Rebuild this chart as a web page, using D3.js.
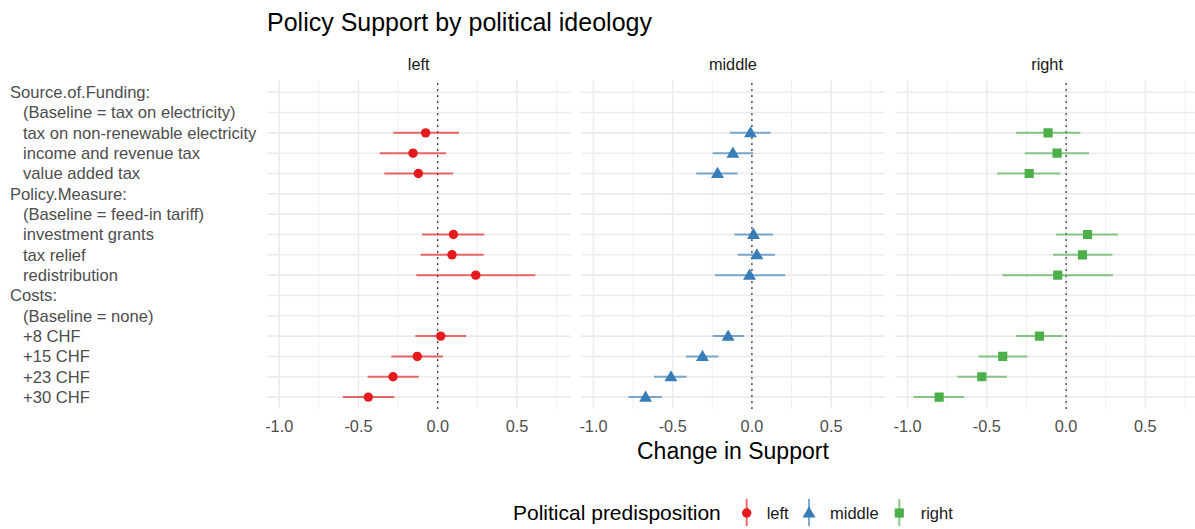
<!DOCTYPE html>
<html><head><meta charset="utf-8">
<script src="https://cdn.jsdelivr.net/npm/d3@7"></script>
<style>body{margin:0;background:#fff}svg{display:block;font-family:"Liberation Sans",Arial,sans-serif}</style>
</head><body><svg id="c" width="1195" height="529"></svg>
<script>
const terms = ["Source.of.Funding:","(Baseline = tax on electricity)","tax on non-renewable electricity","income and revenue tax","value added tax","Policy.Measure:","(Baseline = feed-in tariff)","investment grants","tax relief","redistribution","Costs:","(Baseline = none)","+8 CHF","+15 CHF","+23 CHF","+30 CHF"];
const headerRows = ["Source.of.Funding:","Policy.Measure:","Costs:"];
const groups = ["left","middle","right"];
const colors = ["#E41A1C","#377EB8","#4DAF4A"];
const xTicks = [-1.0,-0.5,0.0,0.5];
const xMinor = [-0.75,-0.25,0.25,0.75];
// estimates (null = no estimate)
const estLeft   = [null,null,-0.076,-0.156,-0.122,null,null,0.099,0.090,0.240,null,null,0.019,-0.129,-0.282,-0.438];
const lowLeft   = [null,null,-0.280,-0.366,-0.337,null,null,-0.099,-0.108,-0.135,null,null,-0.141,-0.293,-0.442,-0.599];
const highLeft  = [null,null,0.134,0.052,0.097,null,null,0.294,0.290,0.616,null,null,0.179,0.033,-0.120,-0.274];
const estMiddle = [null,null,-0.009,-0.120,-0.217,null,null,0.010,0.031,-0.015,null,null,-0.150,-0.312,-0.511,-0.671];
const lowMiddle = [null,null,-0.139,-0.248,-0.351,null,null,-0.110,-0.089,-0.234,null,null,-0.248,-0.417,-0.618,-0.779];
const highMiddle= [null,null,0.118,0.008,-0.091,null,null,0.132,0.145,0.210,null,null,-0.049,-0.211,-0.413,-0.568];
const estRight  = [null,null,-0.114,-0.057,-0.233,null,null,0.135,0.103,-0.053,null,null,-0.168,-0.400,-0.532,-0.801];
const lowRight  = [null,null,-0.317,-0.261,-0.435,null,null,-0.063,-0.082,-0.402,null,null,-0.317,-0.553,-0.686,-0.963];
const highRight = [null,null,0.090,0.145,-0.036,null,null,0.326,0.292,0.295,null,null,-0.021,-0.246,-0.374,-0.642];

const series = [
  {est:estLeft, low:lowLeft, high:highLeft},
  {est:estMiddle, low:lowMiddle, high:highMiddle},
  {est:estRight, low:lowRight, high:highRight}
];
const symbols = [d3.symbolCircle, d3.symbolTriangle, d3.symbolSquare];
const symSizes = [70, 72, 84];

const svg = d3.select("#c");
const panelW = 304, panelStep = 314.2, panelX0 = 266.7;
const yTop = 80, yBottom = 409.3;
const x = d3.scaleLinear().domain([-1.079,0.839]).range([0,panelW]);
const y = d3.scalePoint().domain(terms).range([yTop,yBottom]).padding(0.6);

// title
svg.append("text").attr("x",267).attr("y",31).attr("font-size",25).attr("fill","#000").text("Policy Support by political ideology");

// y labels
svg.append("g").selectAll("text").data(terms).join("text")
  .attr("x",d=>headerRows.includes(d)?10:23)
  .attr("y",d=>y(d)).attr("dy","0.36em")
  .attr("font-size",16.6).attr("fill","#4d4d4d").text(d=>d);

groups.forEach((g,i)=>{
  const gx = panelX0 + i*panelStep;
  const p = svg.append("g").attr("transform",`translate(${gx},0)`);
  const clipId = "clip"+i;
  p.append("clipPath").attr("id",clipId).append("rect").attr("x",0).attr("y",yTop).attr("width",panelW).attr("height",yBottom-yTop);
  const body = p.append("g").attr("clip-path",`url(#${clipId})`);
  // minor grid
  body.selectAll(".mn").data(xMinor).join("line")
    .attr("x1",d=>x(d)).attr("x2",d=>x(d)).attr("y1",yTop).attr("y2",yBottom)
    .attr("stroke","#f1f1f1").attr("stroke-width",1);
  // major vertical grid
  body.selectAll(".mj").data(xTicks).join("line")
    .attr("x1",d=>x(d)).attr("x2",d=>x(d)).attr("y1",yTop).attr("y2",yBottom)
    .attr("stroke","#ebebeb").attr("stroke-width",1.5);
  // horizontal grid
  body.selectAll(".hg").data(terms).join("line")
    .attr("x1",0).attr("x2",panelW).attr("y1",d=>y(d)).attr("y2",d=>y(d))
    .attr("stroke","#ebebeb").attr("stroke-width",1.6);
  // zero line
  body.append("line").attr("x1",x(0)).attr("x2",x(0)).attr("y1",yTop+4).attr("y2",yBottom)
    .attr("stroke","#000").attr("stroke-width",1.6).attr("stroke-dasharray","0.1 5.9").attr("stroke-linecap","round");
  // strip label
  p.append("text").attr("x",panelW/2).attr("y",69.5).attr("text-anchor","middle")
    .attr("font-size",16.3).attr("fill","#1a1a1a").text(g);
  // x axis tick labels
  p.selectAll(".tl").data(xTicks).join("text")
    .attr("x",d=>x(d)).attr("y",432).attr("text-anchor","middle")
    .attr("font-size",16.3).attr("fill","#4d4d4d").text(d=>d3.format(".1f")(d).replace("−","-"));
  const s = series[i];
  const idx = d3.range(terms.length).filter(k=>s.est[k]!==null);
  body.selectAll(".eb").data(idx).join("line")
    .attr("x1",k=>x(s.low[k])).attr("x2",k=>x(s.high[k]))
    .attr("y1",k=>y(terms[k])).attr("y2",k=>y(terms[k]))
    .attr("stroke",colors[i]).attr("stroke-opacity",0.65).attr("stroke-width",2);
  body.selectAll(".pt").data(idx).join("path")
    .attr("transform",k=>`translate(${x(s.est[k])},${y(terms[k])+(i===1?0.8:0)})`)
    .attr("d",d3.symbol().type(symbols[i]).size(symSizes[i]))
    .attr("fill",colors[i]);
});

// x axis title
svg.append("text").attr("x",panelX0+panelStep+panelW/2).attr("y",459).attr("text-anchor","middle")
  .attr("font-size",23).attr("fill","#000").text("Change in Support");

// legend
const ly = 513;
svg.append("text").attr("x",513).attr("y",ly+7).attr("font-size",21).attr("fill","#000").text("Political predisposition");
const keyX = [746.7,809,899.3];
const labX = [766.7,830,920.7];
groups.forEach((g,i)=>{
  svg.append("line").attr("x1",keyX[i]).attr("x2",keyX[i]).attr("y1",ly-14).attr("y2",ly+13)
    .attr("stroke",colors[i]).attr("stroke-opacity",0.65).attr("stroke-width",2);
  svg.append("path").attr("transform",`translate(${keyX[i]},${ly+(i===1?0.8:0)})`)
    .attr("d",d3.symbol().type(symbols[i]).size(symSizes[i])).attr("fill",colors[i]);
  svg.append("text").attr("x",labX[i]).attr("y",ly+6).attr("font-size",16.5).attr("fill","#1a1a1a").text(g);
});
</script></body></html>
